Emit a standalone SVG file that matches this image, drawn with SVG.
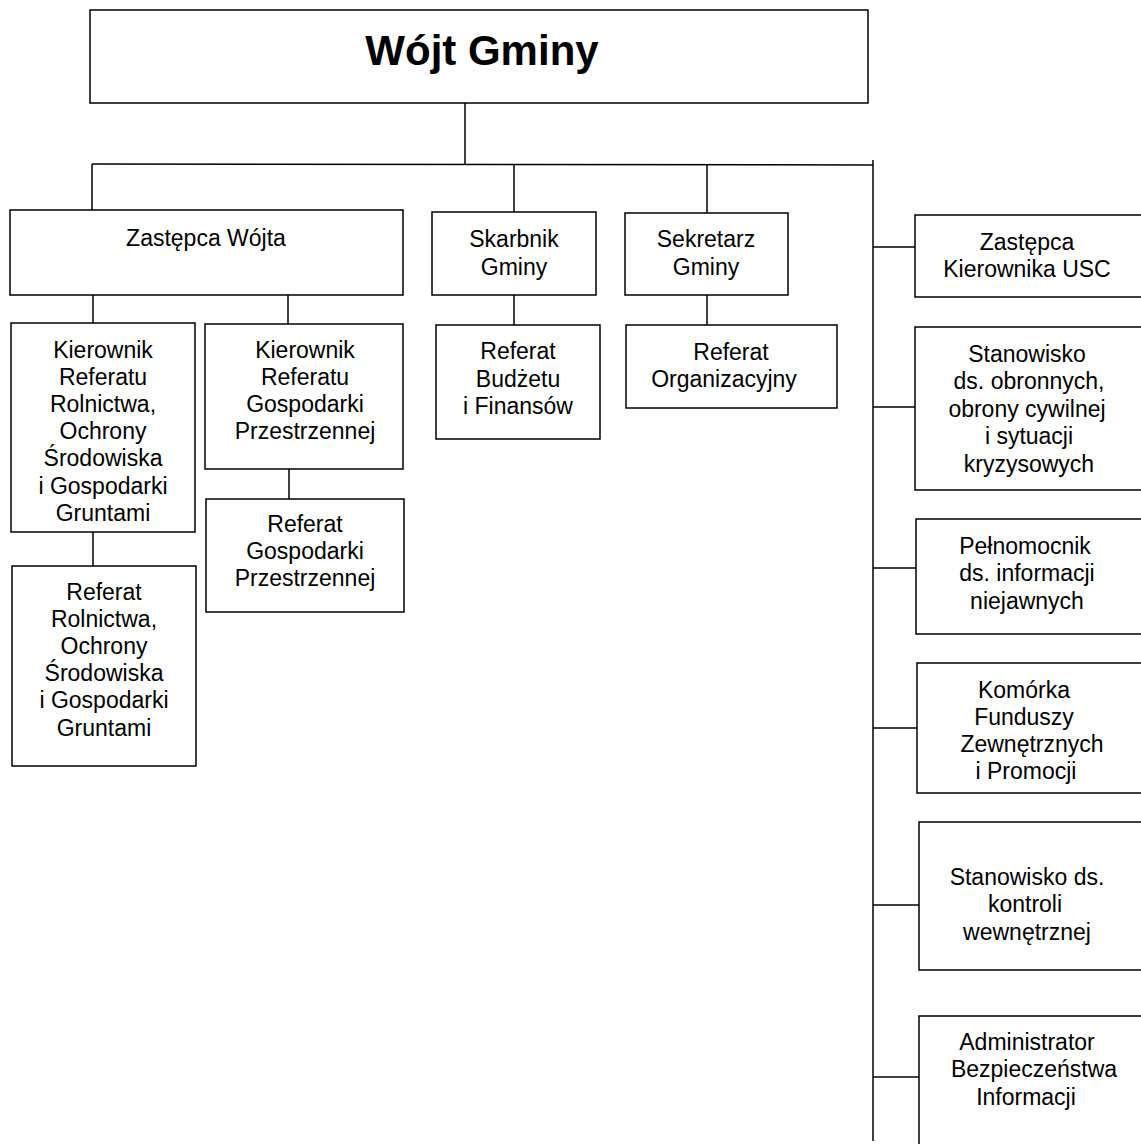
<svg xmlns="http://www.w3.org/2000/svg" width="1141" height="1144" viewBox="0 0 1141 1144">
<style>
rect{fill:#fff;stroke:#000;stroke-width:1.5}
.c line{stroke:#000;stroke-width:1.5}
text{font-family:"Liberation Sans",Arial,sans-serif;font-size:23px;fill:#000;text-anchor:middle}
.t{font-size:42px;font-weight:bold}
</style>
<rect x="0" y="0" width="1141" height="1144" style="stroke:none"/>
<g class="c" id="connectors">
<line x1="465" y1="103" x2="465" y2="164"/>
<line x1="92" y1="164" x2="873" y2="165"/>
<line x1="92" y1="164" x2="92" y2="210"/>
<line x1="514" y1="165" x2="514" y2="212"/>
<line x1="707" y1="165" x2="707" y2="213"/>
<line x1="873" y1="160" x2="873" y2="1141"/>
<line x1="93" y1="295" x2="93" y2="323"/>
<line x1="288" y1="295" x2="288" y2="324"/>
<line x1="289" y1="469" x2="289" y2="499"/>
<line x1="93" y1="532" x2="93" y2="566"/>
<line x1="514" y1="295" x2="514" y2="325"/>
<line x1="707" y1="295" x2="707" y2="325"/>
<line x1="873" y1="247" x2="915" y2="247"/>
<line x1="873" y1="407" x2="915" y2="407"/>
<line x1="873" y1="568" x2="916" y2="568"/>
<line x1="873" y1="728" x2="917" y2="728"/>
<line x1="873" y1="905" x2="919" y2="905"/>
<line x1="873" y1="1077" x2="919" y2="1077"/>
</g>
<g id="wojt"><rect x="90" y="10" width="778" height="93"/><text class="t" x="482" y="65">Wójt Gminy</text></g>
<g id="zastepca"><rect x="10" y="210" width="393" height="85"/><text x="206" y="246">Zastępca Wójta</text></g>
<g id="skarbnik"><rect x="432" y="212" width="164" height="83"/><text x="514" y="247">Skarbnik</text><text x="514" y="275">Gminy</text></g>
<g id="sekretarz"><rect x="625" y="213" width="163" height="82"/><text x="706" y="247">Sekretarz</text><text x="706" y="275">Gminy</text></g>
<g id="kier-rr"><rect x="11" y="323" width="184" height="209"/>
<text x="103" y="358">Kierownik</text><text x="103" y="385">Referatu</text><text x="103" y="412">Rolnictwa,</text><text x="103" y="439">Ochrony</text><text x="103" y="466">Środowiska</text><text x="103" y="494">i Gospodarki</text><text x="103" y="521">Gruntami</text></g>
<g id="kier-gp"><rect x="205" y="324" width="198" height="145"/>
<text x="305" y="358">Kierownik</text><text x="305" y="385">Referatu</text><text x="305" y="412">Gospodarki</text><text x="305" y="439">Przestrzennej</text></g>
<g id="ref-gp"><rect x="206" y="499" width="198" height="113"/>
<text x="305" y="532">Referat</text><text x="305" y="559">Gospodarki</text><text x="305" y="586">Przestrzennej</text></g>
<g id="ref-rr"><rect x="12" y="566" width="184" height="200"/>
<text x="104" y="600">Referat</text><text x="104" y="627">Rolnictwa,</text><text x="104" y="654">Ochrony</text><text x="104" y="681">Środowiska</text><text x="104" y="708">i Gospodarki</text><text x="104" y="736">Gruntami</text></g>
<g id="ref-bf"><rect x="436" y="325" width="164" height="114"/>
<text x="518" y="359">Referat</text><text x="518" y="387">Budżetu</text><text x="518" y="414">i Finansów</text></g>
<g id="ref-org"><rect x="626" y="325" width="211" height="83"/>
<text x="731" y="360">Referat</text><text x="724" y="387">Organizacyjny</text></g>
<g id="usc"><rect x="915" y="215" width="230" height="82"/>
<text x="1027" y="250">Zastępca</text><text x="1027" y="277">Kierownika USC</text></g>
<g id="obrona"><rect x="915" y="327" width="230" height="163"/>
<text x="1027" y="362">Stanowisko</text><text x="1029" y="389">ds. obronnych,</text><text x="1027" y="417">obrony cywilnej</text><text x="1029" y="444">i sytuacji</text><text x="1029" y="472">kryzysowych</text></g>
<g id="pelnomocnik"><rect x="916" y="519" width="230" height="115"/>
<text x="1025" y="554">Pełnomocnik</text><text x="1027" y="581">ds. informacji</text><text x="1027" y="609">niejawnych</text></g>
<g id="komorka"><rect x="917" y="663" width="230" height="130"/>
<text x="1024" y="698">Komórka</text><text x="1024" y="725">Funduszy</text><text x="1032" y="752">Zewnętrznych</text><text x="1026" y="779">i Promocji</text></g>
<g id="kontrola"><rect x="919" y="822" width="230" height="148"/>
<text x="1027" y="885">Stanowisko ds.</text><text x="1025" y="912">kontroli</text><text x="1027" y="940">wewnętrznej</text></g>
<g id="abi"><rect x="919" y="1016" width="230" height="140"/>
<text x="1027" y="1050">Administrator</text><text x="1034" y="1077">Bezpieczeństwa</text><text x="1026" y="1105">Informacji</text></g>
</svg>
